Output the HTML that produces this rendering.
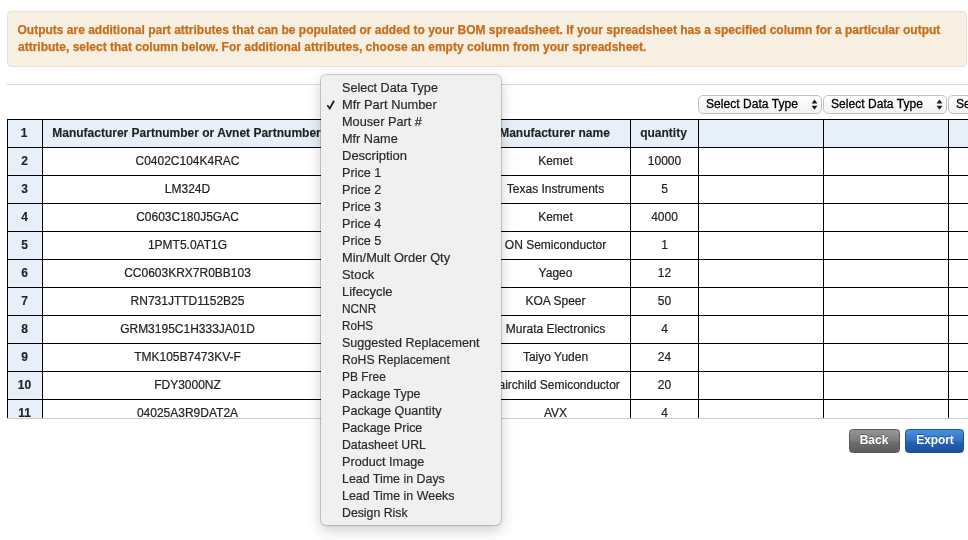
<!DOCTYPE html>
<html lang="en">
<head>
<meta charset="utf-8">
<title>BOM Export</title>
<style>
*{box-sizing:border-box;}
html,body{margin:0;padding:0;}
body{width:968px;height:540px;overflow:hidden;background:#fff;position:relative;
  font-family:"Liberation Sans",sans-serif;font-size:12px;color:#222;}
.alert{position:absolute;left:7px;top:11px;width:960px;height:56px;background:#f8efe3;
  border:1px solid #ebe0d5;border-radius:4px;padding:10px 10px 0 10px;
  color:#c66e1a;font-weight:bold;font-size:12px;line-height:17px;white-space:nowrap;overflow:hidden;-webkit-text-stroke:0.25px #c66e1a;text-indent:-0.5px;}
.wrap{position:absolute;left:7px;top:84px;width:961px;height:335px;border-top:1px solid #d6d6d6;border-bottom:1px solid #ccc;overflow:hidden;}
.sel{position:absolute;top:10px;height:19px;width:124px;border:1px solid #c2c2c2;border-radius:5px;
  background:linear-gradient(#ffffff,#f3f3f3);font-size:12px;line-height:17px;padding-left:8px;color:#000;white-space:nowrap;}
.sel span{position:relative;left:-1px;-webkit-text-stroke:0.3px #000;letter-spacing:0.05px;}
.sel .ar{position:absolute;left:111px;top:3px;}
table{position:absolute;left:0;top:34px;border-collapse:collapse;table-layout:fixed;width:1066px;}
td{border:1px solid #000;height:28px;padding:0;text-align:center;font-size:12px;font-weight:normal;color:#222;white-space:nowrap;overflow:hidden;}
td span{position:relative;top:-1px;-webkit-text-stroke:0.2px #222;}
tr.h td span{left:-1px;-webkit-text-stroke:0.12px #222;}
td.n span{-webkit-text-stroke:0.12px #222;left:-0.5px;}
tr.h td{background:#e7f0f8;font-weight:bold;}
td.n{background:#e7f0f8;font-weight:bold;}
.btn{position:absolute;top:429px;height:24px;border-radius:3.5px;color:#fff;font-weight:bold;font-size:12px;line-height:21px;text-align:center;
  text-shadow:0 -1px 0 rgba(0,0,0,0.35);}
.back{left:849px;width:51px;background:linear-gradient(#969696 0%,#7c7c7c 48%,#6c6c6c 56%,#5d5d5d 100%);border:1px solid #585858;text-indent:-1px;}
.export{left:905px;width:59px;background:linear-gradient(#4a90e0 0%,#2f72c8 48%,#2362b6 56%,#1c4e9e 100%);border:1px solid #1f519d;letter-spacing:-0.1px;text-indent:1px;}
.menu{position:absolute;left:321px;top:75px;width:180px;height:450px;background:#f0f0f0;border-radius:5px;
  box-shadow:0 0 0 1px rgba(0,0,0,0.17),0 5px 14px rgba(0,0,0,0.21);padding:4px 0 0 0;
  font-size:13px;line-height:17px;color:#2a2a2a;-webkit-text-stroke:0.2px #2a2a2a;}
.menu div{padding-left:21px;position:relative;white-space:nowrap;height:17px;}
.menu span{display:inline-block;transform-origin:0 50%;}
.menu .ck{position:absolute;left:5px;top:4px;}
</style>
</head>
<body>
<div class="alert">Outputs are additional part attributes that can be populated or added to your BOM spreadsheet. If your spreadsheet has a specified column for a particular output<br>attribute, select that column below. For additional attributes, choose an empty column from your spreadsheet.</div>

<div class="wrap">
  <div class="sel" style="left:327px"><span>Mfr Part Number</span><svg class="ar" width="9" height="12" viewBox="0 0 9 12"><path d="M4.5 0.4L7.4 4.5H1.6Z M4.5 10.8L7.4 6.7H1.6Z" fill="#1a1a1a"/></svg></div>
  <div class="sel" style="left:691px"><span>Select Data Type</span><svg class="ar" width="9" height="12" viewBox="0 0 9 12"><path d="M4.5 0.4L7.4 4.5H1.6Z M4.5 10.8L7.4 6.7H1.6Z" fill="#1a1a1a"/></svg></div>
  <div class="sel" style="left:816px"><span>Select Data Type</span><svg class="ar" width="9" height="12" viewBox="0 0 9 12"><path d="M4.5 0.4L7.4 4.5H1.6Z M4.5 10.8L7.4 6.7H1.6Z" fill="#1a1a1a"/></svg></div>
  <div class="sel" style="left:941px"><span>Select Data Type</span><svg class="ar" width="9" height="12" viewBox="0 0 9 12"><path d="M4.5 0.4L7.4 4.5H1.6Z M4.5 10.8L7.4 6.7H1.6Z" fill="#1a1a1a"/></svg></div>
  <table>
    <colgroup><col style="width:35px"><col style="width:290px"><col style="width:148px"><col style="width:150px"><col style="width:68px"><col style="width:125px"><col style="width:125px"><col style="width:125px"></colgroup>
    <tr class="h"><td class="n"><span>1</span></td><td><span>Manufacturer Partnumber or Avnet Partnumber</span></td><td></td><td><span>Manufacturer name</span></td><td><span>quantity</span></td><td></td><td></td><td></td></tr>
    <tr><td class="n"><span>2</span></td><td><span>C0402C104K4RAC</span></td><td></td><td><span>Kemet</span></td><td><span>10000</span></td><td></td><td></td><td></td></tr>
    <tr><td class="n"><span>3</span></td><td><span>LM324D</span></td><td></td><td><span>Texas Instruments</span></td><td><span>5</span></td><td></td><td></td><td></td></tr>
    <tr><td class="n"><span>4</span></td><td><span>C0603C180J5GAC</span></td><td></td><td><span>Kemet</span></td><td><span>4000</span></td><td></td><td></td><td></td></tr>
    <tr><td class="n"><span>5</span></td><td><span>1PMT5.0AT1G</span></td><td></td><td><span>ON Semiconductor</span></td><td><span>1</span></td><td></td><td></td><td></td></tr>
    <tr><td class="n"><span>6</span></td><td><span>CC0603KRX7R0BB103</span></td><td></td><td><span>Yageo</span></td><td><span>12</span></td><td></td><td></td><td></td></tr>
    <tr><td class="n"><span>7</span></td><td><span>RN731JTTD1152B25</span></td><td></td><td><span>KOA Speer</span></td><td><span>50</span></td><td></td><td></td><td></td></tr>
    <tr><td class="n"><span>8</span></td><td><span>GRM3195C1H333JA01D</span></td><td></td><td><span>Murata Electronics</span></td><td><span>4</span></td><td></td><td></td><td></td></tr>
    <tr><td class="n"><span>9</span></td><td><span>TMK105B7473KV-F</span></td><td></td><td><span>Taiyo Yuden</span></td><td><span>24</span></td><td></td><td></td><td></td></tr>
    <tr><td class="n"><span>10</span></td><td><span>FDY3000NZ</span></td><td></td><td><span>Fairchild Semiconductor</span></td><td><span>20</span></td><td></td><td></td><td></td></tr>
    <tr><td class="n"><span>11</span></td><td><span>04025A3R9DAT2A</span></td><td></td><td><span>AVX</span></td><td><span>4</span></td><td></td><td></td><td></td></tr>
  </table>
</div>

<div class="btn back">Back</div>
<div class="btn export">Export</div>

<div class="menu">
  <div><span style="transform:scaleX(0.971)">Select Data Type</span></div>
  <div><svg class="ck" width="10" height="10" viewBox="0 0 10 10"><path d="M1.3 5.3L3.8 8.5L8.0 0.7" fill="none" stroke="#222" stroke-width="1.8" stroke-linejoin="miter"/></svg><span style="transform:scaleX(0.986)">Mfr Part Number</span></div>
  <div><span style="transform:scaleX(0.979)">Mouser Part #</span></div>
  <div><span style="transform:scaleX(0.977)">Mfr Name</span></div>
  <div><span>Description</span></div>
  <div><span style="transform:scaleX(0.972)">Price 1</span></div>
  <div><span style="transform:scaleX(0.972)">Price 2</span></div>
  <div><span style="transform:scaleX(0.972)">Price 3</span></div>
  <div><span style="transform:scaleX(0.972)">Price 4</span></div>
  <div><span style="transform:scaleX(0.972)">Price 5</span></div>
  <div><span style="transform:scaleX(0.984)">Min/Mult Order Qty</span></div>
  <div><span style="transform:scaleX(0.994)">Stock</span></div>
  <div><span>Lifecycle</span></div>
  <div><span style="transform:scaleX(0.910)">NCNR</span></div>
  <div><span style="transform:scaleX(0.896)">RoHS</span></div>
  <div><span style="transform:scaleX(0.965)">Suggested Replacement</span></div>
  <div><span style="transform:scaleX(0.938)">RoHS Replacement</span></div>
  <div><span style="transform:scaleX(0.919)">PB Free</span></div>
  <div><span style="transform:scaleX(0.955)">Package Type</span></div>
  <div><span style="transform:scaleX(0.969)">Package Quantity</span></div>
  <div><span style="transform:scaleX(0.958)">Package Price</span></div>
  <div><span style="transform:scaleX(0.943)">Datasheet URL</span></div>
  <div><span style="transform:scaleX(0.973)">Product Image</span></div>
  <div><span style="transform:scaleX(0.955)">Lead Time in Days</span></div>
  <div><span style="transform:scaleX(0.957)">Lead Time in Weeks</span></div>
  <div><span style="transform:scaleX(0.946)">Design Risk</span></div>
</div>
</body>
</html>
